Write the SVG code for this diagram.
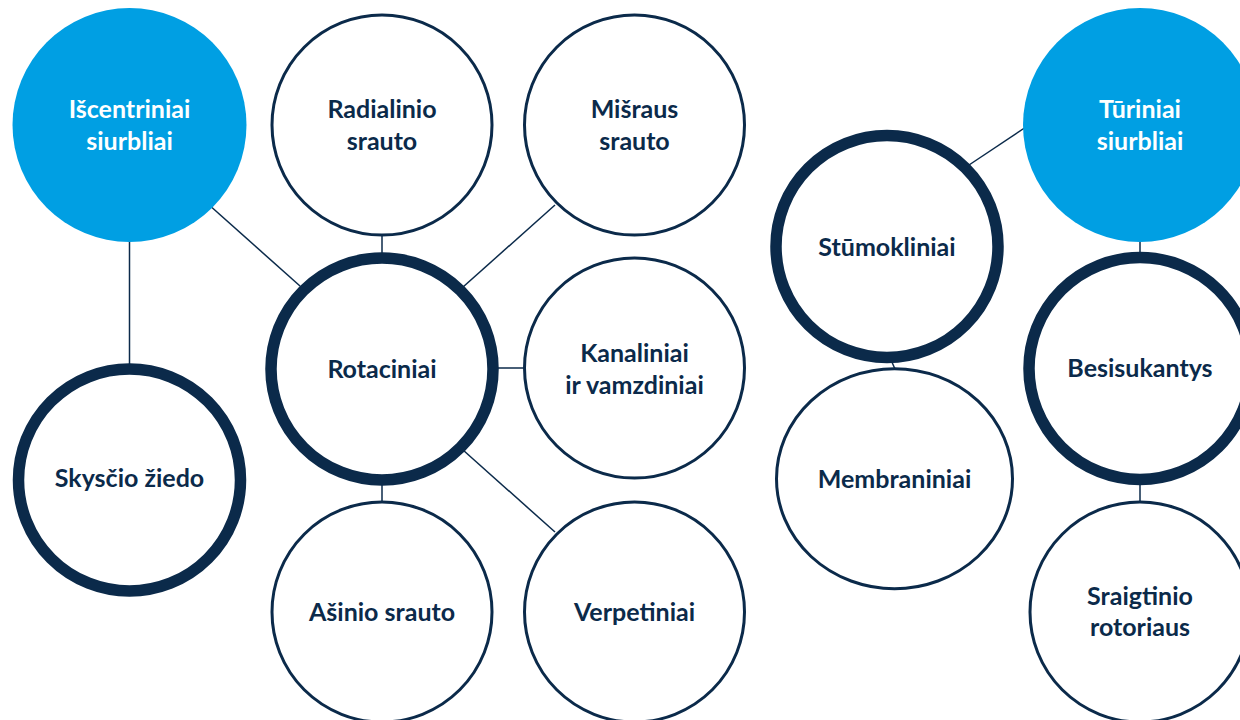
<svg xmlns="http://www.w3.org/2000/svg" width="1240" height="720" viewBox="0 0 1240 720">
<style>
.blue{fill:#009fe3;stroke:none}
.thin{fill:#fff;stroke:#0b2a4a;stroke-width:3}
.thick{fill:#fff;stroke:#0b2a4a;stroke-width:11.5}
.t{font-family:Lato,"Liberation Sans",sans-serif;font-weight:700;font-size:25px;text-anchor:middle;fill:#0b2a4a}
.w{fill:#fff}
.c line{stroke:#0b2a4a;stroke-width:1.5}
</style>
<rect width="1240" height="720" fill="#fff"/>
<g class="c" id="connectors">
<line x1="129.5" y1="236" x2="129.5" y2="366"/>
<line x1="208" y1="204" x2="300" y2="286"/>
<line x1="382" y1="232" x2="382" y2="256"/>
<line x1="555" y1="205" x2="463" y2="287"/>
<line x1="494" y1="368" x2="526" y2="368"/>
<line x1="463" y1="450" x2="555" y2="532"/>
<line x1="382" y1="482" x2="382" y2="503"/>
<line x1="1029" y1="125" x2="969" y2="165"/>
<line x1="1140" y1="236" x2="1140" y2="256"/>
<line x1="891" y1="360" x2="895" y2="369"/>
<line x1="1140" y1="482" x2="1140" y2="503"/>
</g>
<g id="iscentriniai"><circle class="blue" cx="129.5" cy="125" r="117"/><text class="t w" x="129.5" y="118">Išcentriniai</text><text class="t w" x="129.5" y="150">siurbliai</text></g>
<g id="radialinio"><circle class="thin" cx="382" cy="125" r="110"/><text class="t" x="382" y="118">Radialinio</text><text class="t" x="382" y="150">srauto</text></g>
<g id="misraus"><circle class="thin" cx="634.5" cy="125" r="110"/><text class="t" x="634.5" y="118">Mišraus</text><text class="t" x="634.5" y="150">srauto</text></g>
<g id="turiniai"><circle class="blue" cx="1140" cy="125" r="117"/><text class="t w" x="1140" y="118">Tūriniai</text><text class="t w" x="1140" y="150">siurbliai</text></g>
<g id="stumokliniai"><circle class="thick" cx="887" cy="246.5" r="111"/><text class="t" x="887" y="256">Stūmokliniai</text></g>
<g id="rotaciniai"><circle class="thick" cx="382" cy="369" r="111"/><text class="t" x="382" y="377.5">Rotaciniai</text></g>
<g id="kanaliniai"><circle class="thin" cx="634.5" cy="368" r="110"/><text class="t" x="634.5" y="362">Kanaliniai</text><text class="t" x="634.5" y="393.5">ir vamzdiniai</text></g>
<g id="besisukantys"><circle class="thick" cx="1140" cy="368.5" r="111"/><text class="t" x="1140" y="377">Besisukantys</text></g>
<g id="skyscio"><circle class="thick" cx="129.5" cy="480" r="111"/><text class="t" x="129.5" y="487">Skysčio žiedo</text></g>
<g id="membraniniai"><ellipse class="thin" cx="894.5" cy="478.7" rx="118" ry="110"/><text class="t" x="894.5" y="487.5">Membraniniai</text></g>
<g id="asinio"><circle class="thin" cx="382" cy="612" r="110"/><text class="t" x="382" y="621">Ašinio srauto</text></g>
<g id="verpetiniai"><circle class="thin" cx="634.5" cy="612" r="110"/><text class="t" x="634.5" y="621">Verpetiniai</text></g>
<g id="sraigtinio"><circle class="thin" cx="1140" cy="612" r="110"/><text class="t" x="1140" y="604.5">Sraigtinio</text><text class="t" x="1140" y="636">rotoriaus</text></g>
</svg>
